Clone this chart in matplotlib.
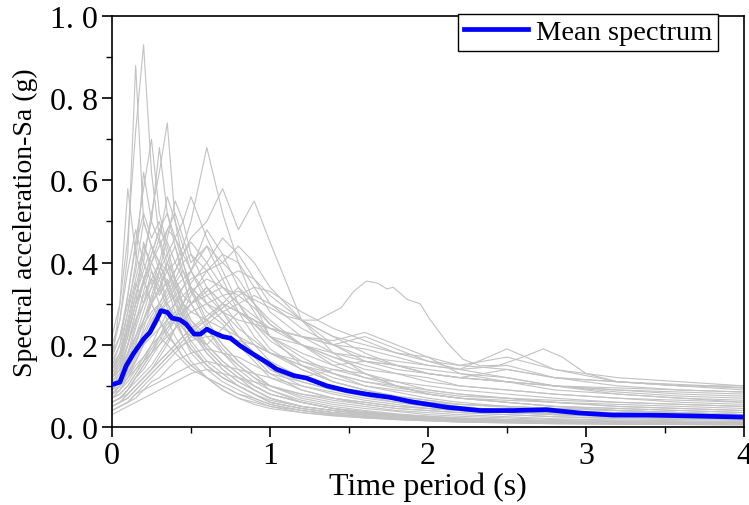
"""
Response spectra of the selected ground motions with their mean spectrum.
"""
import matplotlib
matplotlib.use("Agg")
import matplotlib.pyplot as plt
from matplotlib.ticker import MultipleLocator

# Configuration
FIGURE_SIZE = (7.49, 5.06)
DPI = 100
FONT = ["Liberation Serif", "DejaVu Serif"]
GREY = "#c2c2c2"
BLUE = "#0000ff"

# Period grid shared by most records (s)
periods = [0.0, 0.05, 0.1, 0.15, 0.2, 0.25, 0.3, 0.35, 0.4, 0.45, 0.5, 0.6, 0.7,
           0.8, 0.9, 1.0, 1.2, 1.4, 1.6, 1.8, 2.0, 2.2, 2.5, 2.8, 3.2, 3.6, 4.0]

# Spectral acceleration of each record (g)
records = [
    [0.22, 0.30, 0.46, 0.72, 0.93, 0.62, 0.46, 0.40, 0.33, 0.28, 0.24, 0.18, 0.14, 0.11, 0.09, 0.07, 0.05, 0.04, 0.035, 0.03, 0.025, 0.02, 0.018, 0.015, 0.012, 0.01, 0.009],
    [0.18, 0.26, 0.42, 0.88, 0.50, 0.44, 0.38, 0.30, 0.27, 0.22, 0.19, 0.15, 0.12, 0.10, 0.08, 0.06, 0.045, 0.035, 0.03, 0.025, 0.02, 0.018, 0.015, 0.012, 0.01, 0.009, 0.008],
    [0.16, 0.30, 0.58, 0.42, 0.36, 0.30, 0.26, 0.22, 0.20, 0.17, 0.15, 0.12, 0.10, 0.08, 0.065, 0.05, 0.04, 0.03, 0.025, 0.02, 0.018, 0.015, 0.012, 0.01, 0.009, 0.008, 0.007],
    [0.12, 0.16, 0.24, 0.32, 0.40, 0.52, 0.62, 0.74, 0.50, 0.40, 0.34, 0.26, 0.20, 0.16, 0.13, 0.10, 0.07, 0.055, 0.045, 0.038, 0.03, 0.026, 0.022, 0.018, 0.015, 0.013, 0.011],
    [0.15, 0.20, 0.32, 0.45, 0.58, 0.70, 0.52, 0.44, 0.36, 0.30, 0.26, 0.20, 0.16, 0.13, 0.10, 0.08, 0.06, 0.045, 0.038, 0.03, 0.026, 0.022, 0.018, 0.015, 0.012, 0.01, 0.009],
    [0.14, 0.18, 0.28, 0.40, 0.62, 0.50, 0.68, 0.52, 0.46, 0.40, 0.33, 0.25, 0.20, 0.16, 0.13, 0.10, 0.075, 0.06, 0.05, 0.04, 0.035, 0.03, 0.025, 0.02, 0.017, 0.015, 0.013],
    [0.10, 0.12, 0.18, 0.22, 0.26, 0.30, 0.34, 0.38, 0.40, 0.44, 0.50, 0.68, 0.52, 0.40, 0.30, 0.22, 0.15, 0.11, 0.09, 0.07, 0.06, 0.05, 0.04, 0.032, 0.026, 0.022, 0.02],
    [0.12, 0.14, 0.18, 0.22, 0.26, 0.30, 0.33, 0.35, 0.38, 0.42, 0.46, 0.50, 0.58, 0.48, 0.55, 0.45, 0.26, 0.18, 0.13, 0.10, 0.08, 0.07, 0.06, 0.05, 0.04, 0.035, 0.03],
    [0.10, 0.13, 0.20, 0.28, 0.35, 0.42, 0.48, 0.45, 0.40, 0.36, 0.30, 0.24, 0.18, 0.14, 0.11, 0.09, 0.06, 0.045, 0.035, 0.03, 0.025, 0.02, 0.017, 0.014, 0.012, 0.01, 0.009],
    [0.08, 0.10, 0.14, 0.18, 0.24, 0.30, 0.38, 0.46, 0.55, 0.50, 0.42, 0.34, 0.28, 0.22, 0.17, 0.13, 0.09, 0.07, 0.055, 0.045, 0.04, 0.035, 0.03, 0.025, 0.02, 0.018, 0.016],
    [0.20, 0.26, 0.38, 0.48, 0.40, 0.35, 0.30, 0.26, 0.22, 0.19, 0.16, 0.12, 0.09, 0.07, 0.06, 0.05, 0.035, 0.028, 0.022, 0.018, 0.015, 0.012, 0.01, 0.008, 0.007, 0.006, 0.005],
    [0.06, 0.07, 0.09, 0.12, 0.15, 0.18, 0.22, 0.26, 0.30, 0.34, 0.38, 0.44, 0.40, 0.36, 0.30, 0.26, 0.20, 0.15, 0.12, 0.10, 0.08, 0.07, 0.06, 0.05, 0.045, 0.04, 0.035],
    [0.12, 0.15, 0.22, 0.30, 0.45, 0.38, 0.32, 0.36, 0.30, 0.25, 0.20, 0.15, 0.12, 0.10, 0.08, 0.065, 0.05, 0.04, 0.032, 0.026, 0.022, 0.018, 0.015, 0.012, 0.01, 0.009, 0.008],
    [0.05, 0.06, 0.08, 0.10, 0.12, 0.14, 0.17, 0.20, 0.24, 0.28, 0.32, 0.38, 0.42, 0.40, 0.34, 0.28, 0.22, 0.18, 0.16, 0.15, 0.14, 0.13, 0.12, 0.10, 0.085, 0.075, 0.07],
    [0.15, 0.18, 0.25, 0.34, 0.42, 0.50, 0.45, 0.38, 0.32, 0.28, 0.24, 0.19, 0.15, 0.12, 0.10, 0.08, 0.06, 0.045, 0.035, 0.028, 0.022, 0.018, 0.015, 0.012, 0.01, 0.009, 0.008],
    [0.09, 0.11, 0.16, 0.22, 0.28, 0.34, 0.40, 0.48, 0.52, 0.46, 0.40, 0.44, 0.36, 0.28, 0.22, 0.18, 0.14, 0.11, 0.09, 0.075, 0.065, 0.055, 0.05, 0.045, 0.04, 0.035, 0.03],
    [0.07, 0.08, 0.10, 0.13, 0.16, 0.19, 0.22, 0.25, 0.27, 0.28, 0.30, 0.33, 0.36, 0.38, 0.36, 0.32, 0.26, 0.22, 0.20, 0.18, 0.17, 0.15, 0.14, 0.12, 0.11, 0.10, 0.10],
    [0.18, 0.22, 0.30, 0.38, 0.50, 0.44, 0.40, 0.34, 0.28, 0.24, 0.21, 0.16, 0.13, 0.10, 0.08, 0.06, 0.045, 0.035, 0.028, 0.022, 0.018, 0.015, 0.012, 0.01, 0.008, 0.007, 0.006],
    [0.10, 0.12, 0.17, 0.24, 0.30, 0.36, 0.33, 0.40, 0.44, 0.38, 0.33, 0.28, 0.25, 0.20, 0.16, 0.12, 0.09, 0.07, 0.06, 0.05, 0.045, 0.04, 0.035, 0.03, 0.026, 0.023, 0.02],
    [0.06, 0.07, 0.09, 0.11, 0.13, 0.15, 0.18, 0.21, 0.24, 0.27, 0.30, 0.34, 0.30, 0.28, 0.26, 0.24, 0.22, 0.20, 0.22, 0.19, 0.16, 0.15, 0.17, 0.14, 0.11, 0.10, 0.09],
    [0.13, 0.17, 0.26, 0.35, 0.30, 0.38, 0.34, 0.29, 0.25, 0.22, 0.19, 0.15, 0.12, 0.10, 0.08, 0.06, 0.045, 0.035, 0.03, 0.025, 0.02, 0.017, 0.014, 0.012, 0.01, 0.009, 0.008],
    [0.08, 0.10, 0.14, 0.20, 0.26, 0.32, 0.38, 0.42, 0.46, 0.50, 0.56, 0.46, 0.38, 0.30, 0.24, 0.19, 0.14, 0.11, 0.09, 0.075, 0.065, 0.055, 0.048, 0.04, 0.035, 0.03, 0.028],
    [0.11, 0.13, 0.18, 0.25, 0.33, 0.40, 0.46, 0.56, 0.50, 0.44, 0.38, 0.30, 0.26, 0.22, 0.18, 0.14, 0.10, 0.08, 0.065, 0.055, 0.045, 0.04, 0.035, 0.03, 0.025, 0.022, 0.02],
    [0.04, 0.05, 0.06, 0.08, 0.10, 0.12, 0.14, 0.16, 0.18, 0.20, 0.22, 0.25, 0.28, 0.30, 0.32, 0.30, 0.26, 0.22, 0.18, 0.15, 0.13, 0.12, 0.11, 0.10, 0.09, 0.08, 0.075],
    [0.16, 0.20, 0.28, 0.36, 0.44, 0.40, 0.36, 0.30, 0.26, 0.22, 0.18, 0.14, 0.11, 0.09, 0.07, 0.055, 0.04, 0.03, 0.025, 0.02, 0.016, 0.013, 0.011, 0.009, 0.008, 0.007, 0.006],
    [0.07, 0.09, 0.12, 0.16, 0.20, 0.25, 0.30, 0.34, 0.38, 0.42, 0.45, 0.40, 0.34, 0.30, 0.27, 0.24, 0.20, 0.16, 0.13, 0.11, 0.09, 0.08, 0.07, 0.06, 0.05, 0.045, 0.04],
    [0.05, 0.06, 0.07, 0.09, 0.11, 0.13, 0.15, 0.17, 0.19, 0.20, 0.21, 0.22, 0.22, 0.21, 0.20, 0.18, 0.15, 0.13, 0.11, 0.10, 0.09, 0.08, 0.07, 0.06, 0.05, 0.045, 0.04],
    [0.12, 0.14, 0.20, 0.28, 0.36, 0.30, 0.26, 0.23, 0.20, 0.17, 0.15, 0.12, 0.09, 0.07, 0.055, 0.045, 0.035, 0.027, 0.022, 0.018, 0.015, 0.012, 0.01, 0.008, 0.007, 0.006, 0.005],
    [0.09, 0.11, 0.15, 0.20, 0.26, 0.31, 0.36, 0.40, 0.36, 0.32, 0.30, 0.34, 0.30, 0.25, 0.20, 0.16, 0.12, 0.14, 0.13, 0.10, 0.08, 0.07, 0.065, 0.06, 0.055, 0.05, 0.045],
    [0.06, 0.07, 0.09, 0.12, 0.15, 0.18, 0.21, 0.24, 0.27, 0.30, 0.33, 0.36, 0.34, 0.30, 0.25, 0.21, 0.16, 0.13, 0.11, 0.095, 0.085, 0.075, 0.07, 0.065, 0.06, 0.055, 0.05],
    [0.14, 0.18, 0.24, 0.32, 0.38, 0.44, 0.40, 0.35, 0.31, 0.27, 0.23, 0.18, 0.14, 0.11, 0.09, 0.07, 0.05, 0.04, 0.032, 0.026, 0.022, 0.018, 0.015, 0.012, 0.01, 0.009, 0.008],
    [0.04, 0.05, 0.06, 0.07, 0.09, 0.11, 0.12, 0.14, 0.16, 0.17, 0.18, 0.19, 0.18, 0.17, 0.15, 0.13, 0.11, 0.09, 0.08, 0.07, 0.06, 0.055, 0.05, 0.045, 0.04, 0.035, 0.03],
    [0.10, 0.12, 0.16, 0.21, 0.25, 0.28, 0.30, 0.28, 0.26, 0.24, 0.22, 0.20, 0.24, 0.28, 0.26, 0.22, 0.18, 0.15, 0.16, 0.15, 0.13, 0.12, 0.14, 0.12, 0.11, 0.10, 0.095],
    [0.08, 0.10, 0.13, 0.16, 0.20, 0.22, 0.24, 0.26, 0.28, 0.30, 0.26, 0.22, 0.18, 0.15, 0.12, 0.10, 0.08, 0.065, 0.055, 0.045, 0.04, 0.035, 0.03, 0.025, 0.022, 0.02, 0.018],
    [0.05, 0.06, 0.08, 0.10, 0.12, 0.14, 0.16, 0.18, 0.20, 0.22, 0.24, 0.26, 0.30, 0.34, 0.30, 0.25, 0.20, 0.18, 0.17, 0.16, 0.15, 0.14, 0.19, 0.14, 0.12, 0.11, 0.10],
    [0.11, 0.14, 0.20, 0.26, 0.30, 0.34, 0.38, 0.34, 0.30, 0.27, 0.24, 0.20, 0.16, 0.13, 0.10, 0.08, 0.06, 0.045, 0.035, 0.03, 0.025, 0.02, 0.017, 0.014, 0.012, 0.01, 0.009],
    [0.03, 0.04, 0.05, 0.06, 0.07, 0.08, 0.09, 0.10, 0.11, 0.12, 0.13, 0.14, 0.13, 0.12, 0.11, 0.10, 0.08, 0.07, 0.06, 0.05, 0.045, 0.04, 0.035, 0.03, 0.025, 0.022, 0.02],
    [0.07, 0.09, 0.12, 0.15, 0.17, 0.20, 0.22, 0.20, 0.18, 0.16, 0.14, 0.12, 0.10, 0.08, 0.07, 0.055, 0.04, 0.032, 0.026, 0.022, 0.018, 0.015, 0.012, 0.01, 0.008, 0.007, 0.006],
    [0.13, 0.16, 0.22, 0.30, 0.36, 0.42, 0.48, 0.52, 0.44, 0.36, 0.30, 0.24, 0.19, 0.15, 0.12, 0.09, 0.065, 0.05, 0.04, 0.032, 0.026, 0.022, 0.018, 0.015, 0.012, 0.01, 0.009],
    [0.06, 0.07, 0.09, 0.12, 0.14, 0.17, 0.20, 0.23, 0.26, 0.30, 0.35, 0.40, 0.46, 0.42, 0.36, 0.30, 0.24, 0.20, 0.17, 0.15, 0.13, 0.12, 0.11, 0.10, 0.09, 0.085, 0.08],
    [0.09, 0.11, 0.14, 0.18, 0.22, 0.26, 0.29, 0.32, 0.35, 0.38, 0.34, 0.30, 0.26, 0.22, 0.18, 0.14, 0.11, 0.09, 0.075, 0.06, 0.05, 0.045, 0.04, 0.035, 0.03, 0.027, 0.025],
    [0.04, 0.05, 0.06, 0.08, 0.09, 0.10, 0.11, 0.12, 0.13, 0.14, 0.15, 0.16, 0.15, 0.14, 0.13, 0.12, 0.10, 0.085, 0.07, 0.06, 0.05, 0.045, 0.04, 0.035, 0.03, 0.028, 0.025],
    [0.17, 0.22, 0.32, 0.44, 0.52, 0.46, 0.50, 0.42, 0.35, 0.29, 0.25, 0.19, 0.15, 0.12, 0.09, 0.07, 0.05, 0.04, 0.032, 0.026, 0.022, 0.018, 0.015, 0.012, 0.01, 0.009, 0.008],
    [0.08, 0.10, 0.13, 0.17, 0.21, 0.25, 0.28, 0.31, 0.34, 0.36, 0.38, 0.48, 0.42, 0.34, 0.28, 0.22, 0.17, 0.13, 0.10, 0.085, 0.07, 0.06, 0.05, 0.045, 0.04, 0.035, 0.03],
    [0.07, 0.08, 0.10, 0.13, 0.16, 0.20, 0.24, 0.28, 0.30, 0.32, 0.34, 0.30, 0.28, 0.26, 0.25, 0.24, 0.22, 0.20, 0.19, 0.17, 0.15, 0.14, 0.15, 0.12, 0.10, 0.09, 0.085],
    [0.10, 0.12, 0.15, 0.19, 0.23, 0.27, 0.30, 0.33, 0.36, 0.40, 0.42, 0.38, 0.32, 0.28, 0.25, 0.22, 0.20, 0.17, 0.14, 0.13, 0.12, 0.10, 0.09, 0.08, 0.07, 0.065, 0.06],
    [0.05, 0.06, 0.07, 0.09, 0.11, 0.13, 0.15, 0.17, 0.19, 0.21, 0.23, 0.26, 0.29, 0.32, 0.34, 0.33, 0.28, 0.24, 0.21, 0.18, 0.16, 0.14, 0.12, 0.10, 0.08, 0.07, 0.065],
    [0.12, 0.15, 0.20, 0.26, 0.32, 0.36, 0.40, 0.38, 0.34, 0.30, 0.28, 0.26, 0.24, 0.22, 0.20, 0.18, 0.16, 0.14, 0.12, 0.11, 0.10, 0.09, 0.08, 0.07, 0.06, 0.055, 0.05],
    [0.09, 0.10, 0.13, 0.16, 0.20, 0.24, 0.28, 0.30, 0.32, 0.34, 0.36, 0.38, 0.40, 0.44, 0.40, 0.34, 0.26, 0.20, 0.16, 0.14, 0.13, 0.12, 0.11, 0.09, 0.08, 0.07, 0.06],
    [0.06, 0.07, 0.08, 0.10, 0.12, 0.14, 0.16, 0.18, 0.20, 0.22, 0.24, 0.27, 0.30, 0.28, 0.26, 0.24, 0.22, 0.21, 0.23, 0.20, 0.17, 0.13, 0.11, 0.10, 0.095, 0.09, 0.085],
    [0.14, 0.17, 0.23, 0.30, 0.35, 0.40, 0.44, 0.48, 0.46, 0.42, 0.38, 0.32, 0.28, 0.24, 0.21, 0.18, 0.15, 0.12, 0.10, 0.09, 0.08, 0.07, 0.06, 0.05, 0.045, 0.04, 0.035],
    [0.08, 0.09, 0.11, 0.14, 0.17, 0.20, 0.22, 0.24, 0.26, 0.28, 0.30, 0.32, 0.34, 0.32, 0.29, 0.25, 0.20, 0.17, 0.15, 0.13, 0.11, 0.10, 0.09, 0.08, 0.07, 0.06, 0.055],
]

# The record with the strong long-period bump, read on its own period points
long_periods = [0.0, 0.1, 0.2, 0.3, 0.4, 0.5, 0.6, 0.7, 0.8, 0.9, 1.0, 1.1, 1.2, 1.3,
                1.45, 1.53, 1.61, 1.68, 1.74, 1.78, 1.87, 1.95, 2.01, 2.12, 2.22,
                2.33, 2.45, 2.6, 2.73, 2.85, 3.0, 3.2, 3.5, 3.8, 4.0]
long_sa = [0.08, 0.12, 0.16, 0.20, 0.24, 0.28, 0.30, 0.32, 0.33, 0.31, 0.29, 0.27,
           0.26, 0.26, 0.29, 0.33, 0.355, 0.35, 0.336, 0.34, 0.31, 0.30, 0.263,
           0.206, 0.165, 0.149, 0.15, 0.17, 0.19, 0.17, 0.13, 0.11, 0.105, 0.10, 0.095]

# Mean spectrum
mean_periods = [0.0, 0.05, 0.09, 0.135, 0.2, 0.24, 0.28, 0.31, 0.35, 0.38, 0.43, 0.47,
                0.52, 0.56, 0.6, 0.64, 0.7, 0.75, 0.81, 0.89, 0.98, 1.04, 1.15, 1.23,
                1.36, 1.49, 1.61, 1.76, 1.9, 2.12, 2.33, 2.54, 2.75, 2.96, 3.17, 3.38,
                3.6, 4.0]
mean_sa = [0.103, 0.109, 0.149, 0.178, 0.214, 0.23, 0.259, 0.283, 0.279, 0.265, 0.261,
           0.25, 0.226, 0.226, 0.238, 0.23, 0.22, 0.216, 0.198, 0.178, 0.157, 0.141,
           0.125, 0.119, 0.10, 0.088, 0.08, 0.072, 0.061, 0.048, 0.04, 0.04, 0.042,
           0.034, 0.029, 0.029, 0.0275, 0.024]

# Tick labels as printed on the figure
x_ticks = [0, 1, 2, 3, 4]
x_tick_labels = ["0", "1", "2", "3", "4"]
y_ticks = [0.0, 0.2, 0.4, 0.6, 0.8, 1.0]
y_tick_labels = ["0. 0", "0. 2", "0. 4", "0. 6", "0. 8", "1. 0"]


def main():
    plt.rcParams["font.family"] = FONT
    fig = plt.figure(figsize=FIGURE_SIZE, dpi=DPI)
    ax = fig.add_axes([0.1495, 0.1542, 0.8438, 0.8122])

    for sa in records:
        ax.plot(periods, sa, color=GREY, linewidth=0.8, zorder=1)
    ax.plot(long_periods, long_sa, color=GREY, linewidth=0.8, zorder=1)

    ax.plot(mean_periods, mean_sa, color=BLUE, linewidth=3.4, zorder=3,
            label="Mean spectrum")

    ax.set_xlim(0, 4)
    ax.set_ylim(0, 1.0)
    ax.set_xticks(x_ticks)
    ax.set_xticklabels(x_tick_labels)
    ax.set_yticks(y_ticks)
    ax.set_yticklabels(y_tick_labels)
    ax.xaxis.set_minor_locator(MultipleLocator(0.5))
    ax.yaxis.set_minor_locator(MultipleLocator(0.1))

    ax.tick_params(which="major", direction="out", length=7, width=1.2,
                   labelsize=23, pad=3)
    ax.tick_params(which="minor", direction="out", length=4, width=1.0)
    for spine in ax.spines.values():
        spine.set_linewidth(1.2)

    ax.set_xlabel("Time period (s)", fontsize=23, labelpad=1)
    ax.set_ylabel("Spectral acceleration-Sa (g)", fontsize=20, labelpad=9)

    leg = ax.legend(loc="upper right", bbox_to_anchor=(0.959, 1.006),
                    fontsize=20.5, frameon=True, fancybox=False, framealpha=1,
                    borderaxespad=0, handlelength=2.25, handletextpad=0.3,
                    borderpad=0.2)
    leg.get_frame().set_edgecolor("black")
    leg.get_frame().set_linewidth(1.0)

    fig.savefig("out.png", dpi=DPI)
    plt.close(fig)


if __name__ == "__main__":
    main()
